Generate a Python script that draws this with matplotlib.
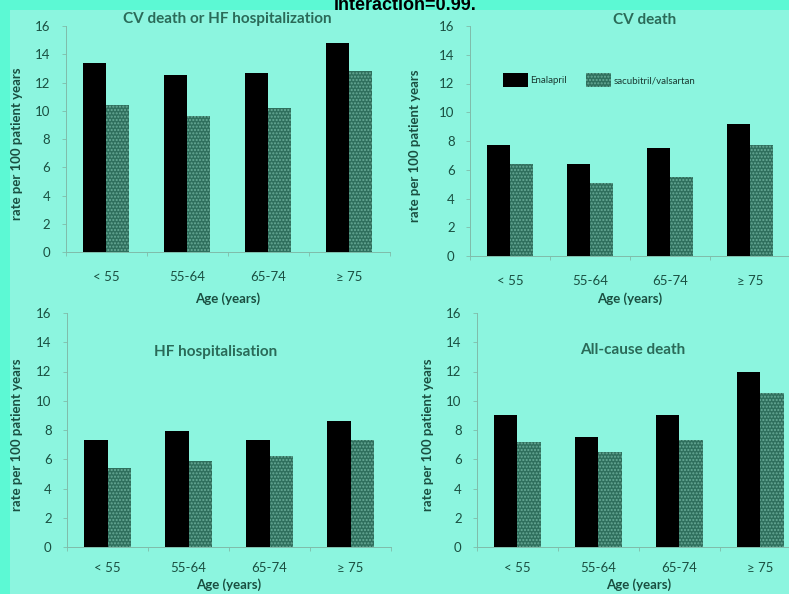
import matplotlib.pyplot as plt
import matplotlib.patches as patches
import numpy as np

# Data (rate per 100 patient years)
age_groups = ['< 55', '55-64', '65-74', '\u2265 75']
titles = ['CV death or HF hospitalization', 'CV death', 'HF hospitalisation', 'All-cause death']
enalapril = [
    [13.4, 12.5, 12.7, 14.8],
    [7.7, 6.4, 7.5, 9.2],
    [7.3, 7.9, 7.3, 8.6],
    [9.0, 7.5, 9.0, 12.0],
]
sacubitril = [
    [10.4, 9.6, 10.2, 12.8],
    [6.4, 5.1, 5.5, 7.7],
    [5.4, 5.9, 6.2, 7.3],
    [7.2, 6.5, 7.3, 10.5],
]
series_names = ['Enalapril', 'sacubitril/valsartan']
yticks = [0, 2, 4, 6, 8, 10, 12, 14, 16]

plt.rcParams['font.family'] = ['Lato', 'DejaVu Sans']

outer_bg = '#5cf9d4'
panel_bg = '#8cf5df'
text_col = '#1a4f41'
title_col = '#2a6a58'
axis_col = '#7fbcaa'

fig = plt.figure(figsize=(7.89, 5.94), dpi=100)
fig.patch.set_facecolor(outer_bg)
fig.patches.append(patches.Rectangle((10 / 789, 0), 1, 1 - 10 / 594,
                                     transform=fig.transFigure, facecolor=panel_bg,
                                     edgecolor='none', zorder=-5))

fig.text(0.513, 0.984, 'interaction=0.99.', ha='center', va='baseline',
         fontsize=13, fontweight='bold', family='Liberation Sans', color='black')

# axes positions in figure fractions: [left, bottom, width, height]
positions = [
    [65.5 / 789, 1 - 252 / 594, 324 / 789, 226 / 594],
    [470 / 789, 1 - 256 / 594, 320 / 789, 230 / 594],
    [67 / 789, 1 - 547 / 594, 324 / 789, 234 / 594],
    [477 / 789, 1 - 547 / 594, 324 / 789, 234 / 594],
]
title_pos = [(0.5, 1.03), (0.547, 1.028), (0.46, 0.833), (0.48, 0.84)]
ylabel_x = [-0.132, -0.152, -0.136, -0.133]
xlabel_y = [-0.178, -0.158, -0.134, -0.134]
xtick_pad = [14, 14, 11, 11]

x = np.arange(len(age_groups))
w = 0.285

for i in range(4):
    ax = fig.add_axes(positions[i])
    ax.set_facecolor('none')
    ax.bar(x - w / 2, enalapril[i], w, color='black', label=series_names[0], zorder=3)
    ax.bar(x + w / 2, sacubitril[i], w, facecolor='#2f6f5d', edgecolor='#68ab97',
           hatch='.....', linewidth=0, label=series_names[1], zorder=3)
    ax.set_xlim(-0.5, 3.5)
    ax.set_ylim(0, 16)
    ax.set_yticks(yticks)
    ax.set_xticks(x)
    ax.set_xticklabels(age_groups)
    ax.set_xticks(np.arange(-0.5, 4, 1), minor=True)
    ax.tick_params(axis='x', which='major', length=0, pad=xtick_pad[i], labelsize=9.5,
                   labelcolor=text_col)
    ax.tick_params(axis='x', which='minor', length=3, color=axis_col, width=0.6)
    ax.tick_params(axis='y', length=3, color=axis_col, width=0.6, pad=8,
                   labelsize=9.5, labelcolor=text_col)
    for s in ['top', 'right']:
        ax.spines[s].set_visible(False)
    for s in ['left', 'bottom']:
        ax.spines[s].set_color(axis_col)
        ax.spines[s].set_linewidth(0.7)
    ax.set_ylabel('rate per 100 patient years', fontsize=9.5, fontweight='bold', color=text_col)
    ax.yaxis.set_label_coords(ylabel_x[i], 0.48)
    ax.set_xlabel('Age (years)', fontsize=9.5, fontweight='bold', color=text_col)
    ax.xaxis.set_label_coords(0.5, xlabel_y[i])
    ax.text(title_pos[i][0], title_pos[i][1], titles[i], transform=ax.transAxes,
            ha='center', va='center', fontsize=11, fontweight='bold', color=title_col)
    if i == 1:
        leg = ax.legend(loc='center left', bbox_to_anchor=(0.075, 0.765), ncol=2,
                        frameon=False, fontsize=7, handlelength=2.6, handleheight=1.8,
                        handletextpad=0.2, columnspacing=2.0)
        for t in leg.get_texts():
            t.set_color('#1a3a32')

fig.savefig('out.png', dpi=100, facecolor=fig.get_facecolor())
